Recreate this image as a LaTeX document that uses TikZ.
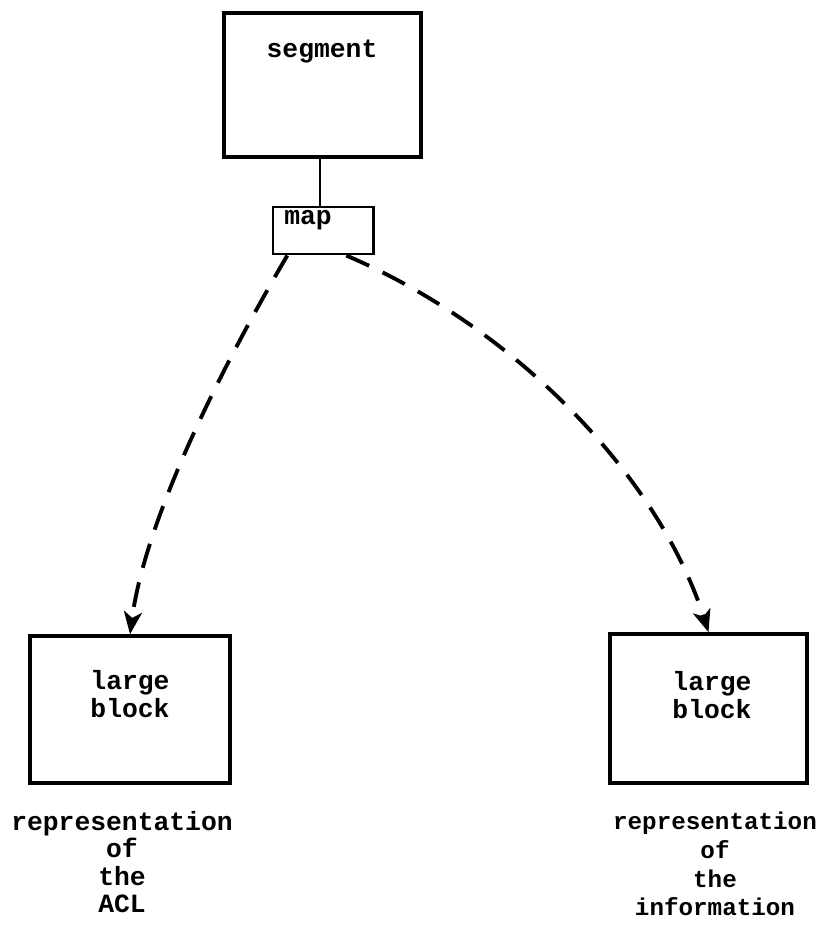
\documentclass[tikz,border=0pt]{standalone}
\usepackage{fontspec}
\setmonofont{Liberation Mono}
\usetikzlibrary{arrows.meta}

\tikzset{
  blockbox/.style={draw, line width=2pt, inner sep=0pt},
  blocktext/.style={font=\fontsize{15}{16}\selectfont\ttfamily\bfseries, align=center, inner sep=0pt},
  pointer/.style={line width=2.2pt, dash pattern=on 5mm off 3mm, -{Stealth[length=4.5mm, width=3.6mm, inset=1.2mm]}}
}

\begin{document}
\begin{tikzpicture}[x=0.2mm, y=-0.2mm]

\useasboundingbox (0,0) rectangle (820,934);

% boxes
\node[blockbox, minimum width=39.4mm, minimum height=28.8mm] (segment) at (322.5,85) {};
\node[blockbox, line width=1.7pt, minimum width=20mm, minimum height=9.4mm] (map) at (323,230.5) {};
\node[blockbox, minimum width=40mm, minimum height=29.4mm] (lblock) at (130,709.5) {};
\node[blockbox, minimum width=39.4mm, minimum height=29.8mm] (rblock) at (708.5,708.5) {};

% texts
\node[blocktext] (segtxt) at (322,52) {segment};
\node[blocktext] (maptxt) at (308,220) {map};
\node[blocktext] (ltxt) at (130,694) {large\\block};
\node[blocktext] (rtxt) at (712,695) {large\\block};

\node[blocktext, font=\fontsize{15}{15.6}\selectfont\ttfamily\bfseries] (lcap) at (122,862) {representation\\of\\the\\ACL};
\node[blocktext, font=\fontsize{13.8}{16.4}\selectfont\ttfamily\bfseries] (rcap) at (715,864) {representation\\of\\the\\information};

% connectors
\draw[line width=1.7pt] (segment.south -| 320,0) -- (map.north -| 320,0);

\draw[pointer] (map.215) .. controls (220,370) and (145,520) .. (lblock.north);
\draw[pointer] (map.313) .. controls (520,330) and (660,480) .. (rblock.north);

\end{tikzpicture}
\end{document}
